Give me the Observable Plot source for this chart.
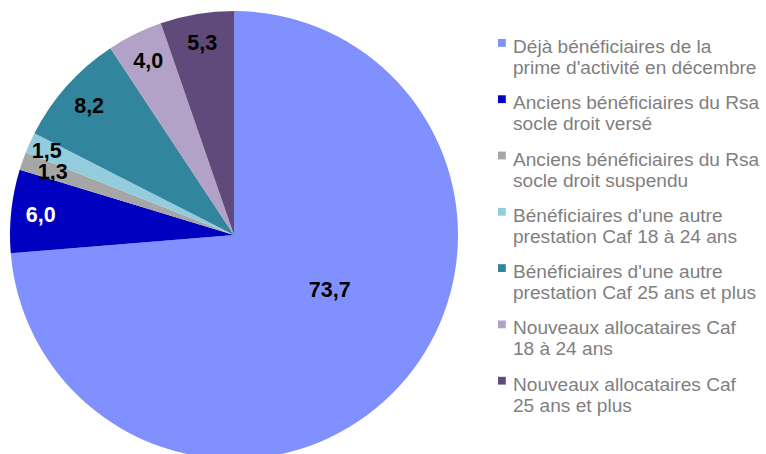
<!DOCTYPE html>
<html><head><meta charset="utf-8">
<script src="https://cdn.jsdelivr.net/npm/d3@7"></script>
<script src="https://cdn.jsdelivr.net/npm/@observablehq/plot@0.6"></script>
<style>body{margin:0;background:#fff;overflow:hidden}</style>
</head><body><div id="chart"></div>
<script>
const categories = [
  "Déjà bénéficiaires de la\nprime d'activité en décembre",
  "Anciens bénéficiaires du Rsa\nsocle droit versé",
  "Anciens bénéficiaires du Rsa\nsocle droit suspendu",
  "Bénéficiaires d'une autre\nprestation Caf 18 à 24 ans",
  "Bénéficiaires d'une autre\nprestation Caf 25 ans et plus",
  "Nouveaux allocataires Caf\n18 à 24 ans",
  "Nouveaux allocataires Caf\n25 ans et plus"
];
const values = [73.7, 6.0, 1.3, 1.5, 8.2, 4.0, 5.3];
const valueLabels = ["73,7", "6,0", "1,3", "1,5", "8,2", "4,0", "5,3"];
const palette = ["#8091FF", "#0000C0", "#A6A6A6", "#93CDDD", "#31859C", "#B3A2C7", "#604A7B"];

const W = 766, H = 454;
const CX = 234, CY = 235, R = 224;

const pie = d3.pie().sort(null).value(d => d.value).startAngle(0).endAngle(2 * Math.PI);
const rows = categories.map((c, i) => ({category: c, value: values[i], label: valueLabels[i], color: palette[i], i}));
const arcs = pie(rows).map(a => ({...a, ...a.data}));

// label placement (layout rule): big slice inside, small slices near the rim,
// adjacent tiny slices staggered radially so their labels do not collide
const labelPos = (a, k) => {
  const big = a.value > 50;
  const mid = (a.startAngle + a.endAngle) / 2 - (big ? 0.225 : 0);
  let f = big ? 0.49 : 0.87;
  if (!big && a.value < 2) {
    const prevTiny = k > 0 && arcs[k - 1].value < 2;
    const nextTiny = k < arcs.length - 1 && arcs[k + 1].value < 2;
    if (prevTiny) f = 0.92; else if (nextTiny) f = 0.86;
  }
  const r = f * R;
  return {x: CX + r * Math.sin(mid), y: CY - r * Math.cos(mid)};
};
arcs.forEach((a, k) => { const p = labelPos(a, k); a.lx = p.x; a.ly = p.y; a.lfill = a.i === 1 ? "white" : "black"; });

const LX = 498, LY = 39, STEP = 56.3, SQ = 7.8;

const pieMark = (index, scales) => {
  const g = d3.create("svg:g");
  const arc = d3.arc().innerRadius(0).outerRadius(R);
  const cx = scales.x(CX), cy = scales.y(CY);
  g.selectAll("path").data(arcs).join("path")
    .attr("transform", `translate(${cx},${cy})`)
    .attr("d", arc)
    .attr("fill", d => d.color)
    .attr("stroke", "none");
  return g.node();
};

const chart = Plot.plot({
  width: W, height: H,
  margin: 0,
  style: {fontFamily: "'Liberation Sans', Arial, sans-serif", background: "white"},
  x: {domain: [0, W], range: [0, W], axis: null},
  y: {domain: [0, H], range: [0, H], axis: null},
  color: {type: "identity"},
  marks: [
    pieMark,
    Plot.text(arcs, {
      x: "lx", y: "ly", text: "label", fill: "lfill",
      fontSize: 21.5, fontWeight: "bold", textAnchor: "middle"
    }),
    Plot.rect(rows, {
      x1: () => LX, x2: () => LX + SQ,
      y1: d => LY + d.i * STEP, y2: d => LY + d.i * STEP + SQ,
      fill: "color"
    }),
    Plot.text(rows, {
      x: () => LX + 14.5, y: d => LY - 1.5 + d.i * STEP,
      text: "category", textAnchor: "start", lineAnchor: "top",
      fontSize: 19.1, lineHeight: 1.1, fill: "#7F7F7F"
    })
  ]
});
document.getElementById("chart").append(chart);
</script>
</body></html>
